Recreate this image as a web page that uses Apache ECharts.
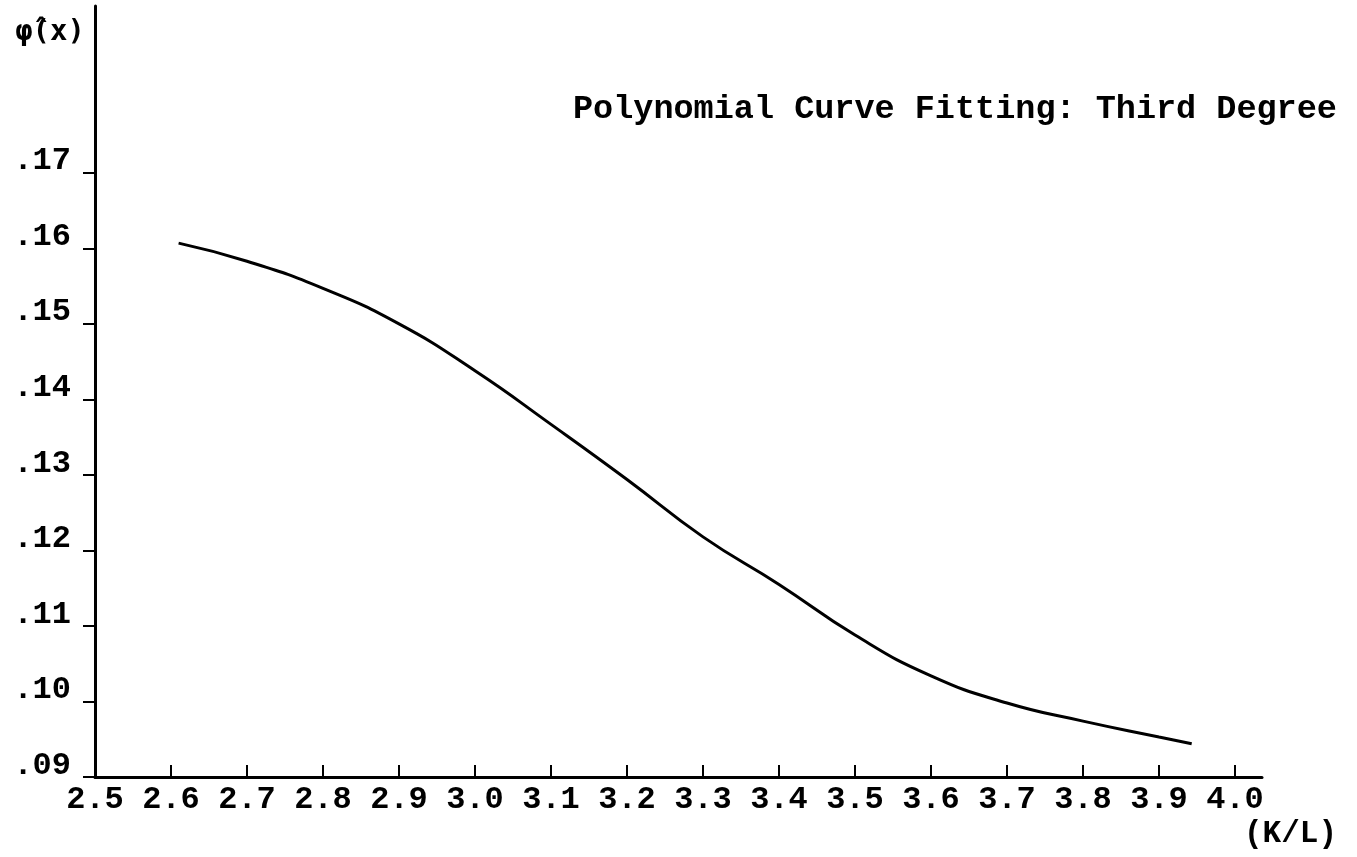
<!DOCTYPE html>
<html>
<head>
<meta charset="utf-8">
<title>Polynomial Curve Fitting: Third Degree</title>
<script src="https://cdn.jsdelivr.net/npm/echarts@6/dist/echarts.min.js"></script>
<style>
  html, body { margin: 0; padding: 0; width: 100%; height: 100%; background: #fff; }
  #main { width: 1357px; height: 857px; }
</style>
</head>
<body>
<div id="main"></div>
<script>
// values (K/L against fitted phi)
var kl = [2.61, 2.70, 2.80, 2.90, 3.00, 3.10, 3.20, 3.30, 3.40, 3.50, 3.60, 3.70, 3.80, 3.90, 3.943];
var phi = [0.1607, 0.1583, 0.1547, 0.1500, 0.1438, 0.1367, 0.1294, 0.1218, 0.1155, 0.1088, 0.1034, 0.0998, 0.0974, 0.0953, 0.0944];
var xTicks = [2.5, 2.6, 2.7, 2.8, 2.9, 3.0, 3.1, 3.2, 3.3, 3.4, 3.5, 3.6, 3.7, 3.8, 3.9, 4.0];
var yTicks = [0.09, 0.10, 0.11, 0.12, 0.13, 0.14, 0.15, 0.16, 0.17];

var FONT = '"Liberation Mono", "Courier New", monospace';

var chart = echarts.init(document.getElementById('main'));

var points = kl.map(function (x, i) { return [x, phi[i]]; });

chart.setOption({
    backgroundColor: '#fff',
    animation: false,
    title: {
        text: 'Polynomial Curve Fitting: Third Degree',
        left: 568,
        top: 88,
        textStyle: { fontFamily: FONT, fontSize: 33.5, fontWeight: 'bold', color: '#000' }
    },
    grid: { left: 95, right: 95, top: 6, bottom: 80 },
    xAxis: {
        type: 'value',
        min: 2.5,
        max: 4.0355,
        interval: 0.1,
        name: '(K/L)',
        nameLocation: 'end',
        nameGap: -18,
        nameTextStyle: {
            fontFamily: FONT, fontSize: 31, fontWeight: 'bold', color: '#000',
            align: 'left', verticalAlign: 'top', padding: [42, 0, 0, 0]
        },
        splitLine: { show: false },
        axisLine: { show: true, lineStyle: { color: '#000', width: 3 } },
        axisTick: {
            show: true, inside: true, length: 12,
            lineStyle: { color: '#000', width: 2 },
            customValues: xTicks
        },
        axisLabel: {
            fontFamily: FONT, fontSize: 32, fontWeight: 'bold', color: '#000',
            margin: 7,
            customValues: xTicks,
            formatter: function (v) { return v.toFixed(1); }
        }
    },
    yAxis: {
        type: 'value',
        min: 0.09,
        max: 0.1921,
        interval: 0.01,
        name: '\u03C6\u0302(x)',
        nameLocation: 'end',
        nameGap: -12,
        nameTextStyle: {
            fontFamily: '"DejaVu Sans Mono", monospace', fontSize: 29, fontWeight: 'bold', color: '#000',
            align: 'right', verticalAlign: 'top', padding: [0, 10, 0, 0]
        },
        splitLine: { show: false },
        axisLine: { show: true, lineStyle: { color: '#000', width: 3 } },
        axisTick: {
            show: true, length: 12,
            lineStyle: { color: '#000', width: 2 },
            customValues: yTicks
        },
        axisLabel: {
            fontFamily: FONT, fontSize: 32, fontWeight: 'bold', color: '#000',
            margin: 24,
            verticalAlign: 'bottom',
            lineHeight: 23,
            customValues: yTicks,
            formatter: function (v) { return v.toFixed(2).slice(1); }
        }
    },
    series: [{
        type: 'line',
        data: points,
        smooth: true,
        showSymbol: false,
        lineStyle: { color: '#000', width: 3 }
    }]
});

window.addEventListener('resize', function () {
    chart.resize();
});
</script>
</body>
</html>
